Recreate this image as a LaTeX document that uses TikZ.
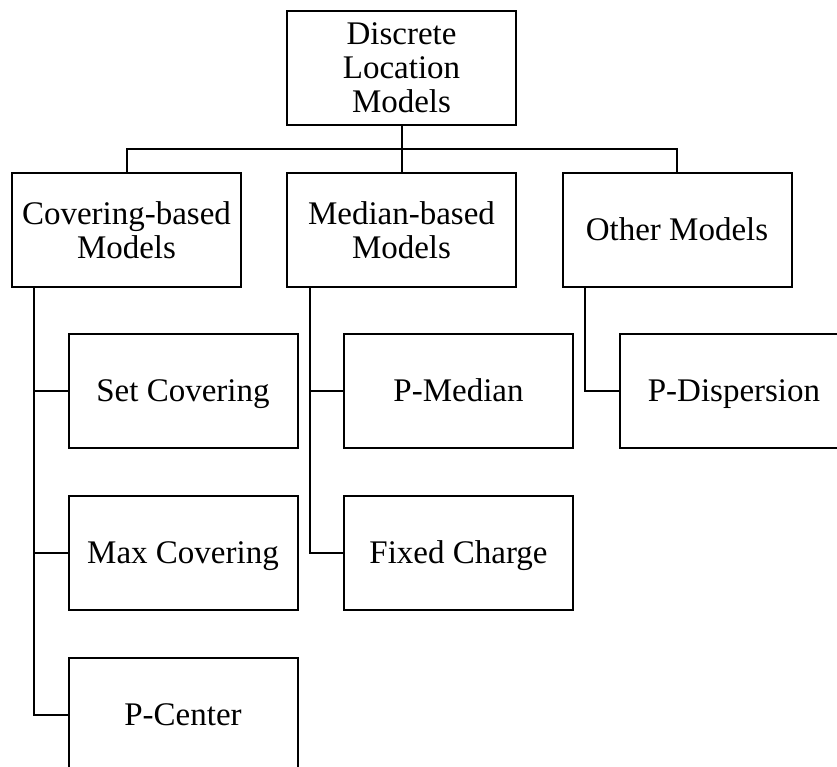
\documentclass[tikz,border=0pt]{standalone}
\usepackage{fontspec}
\setmainfont{Liberation Serif}
\begin{document}
\begin{tikzpicture}[x=1pt,y=-1pt,
  box/.style={draw,line width=2pt,minimum width=229pt,minimum height=114pt,
    inner sep=0pt,align=center,font=\fontsize{33}{34}\selectfont},
  oneline/.style={box,text height=21.8pt,text depth=0pt},
  conn/.style={line width=2pt}]
\useasboundingbox (0,0) rectangle (837,767);
% level 1
\node[box] (root) at (401.5,68) {Discrete\\Location\\Models};
% level 2
\node[box] (cov) at (126.5,230) {Covering-based\\Models};
\node[box] (med) at (401.5,230) {Median-based\\Models};
\node[oneline] (oth) at (677,230) {Other Models};
% level 3
\node[oneline] (sc) at (183,391) {Set Covering};
\node[oneline] (mc) at (183,553) {Max Covering};
\node[oneline] (pc) at (183,715) {P-Center};
\node[oneline] (pm) at (458.5,391) {P-Median};
\node[oneline] (fc) at (458.5,553) {Fixed Charge};
\node[oneline] (pd) at (734,391) {P-Dispersion};
% bus
\coordinate (bus) at (401.5,149);
\draw[conn] (root.south) -- (med.north);
\draw[conn] (cov.north) -- (cov.north |- bus) -- (oth.north |- bus) -- (oth.north);
% trunks
\coordinate (ct) at ([xshift=23pt]cov.south west);
\coordinate (mt) at ([xshift=24pt]med.south west);
\coordinate (ot) at ([xshift=23pt]oth.south west);
\draw[conn] (ct) |- (pc.west);
\draw[conn] (sc.west) -- (sc.west -| ct);
\draw[conn] (mc.west) -- (mc.west -| ct);
\draw[conn] (mt) |- (fc.west);
\draw[conn] (pm.west) -- (pm.west -| mt);
\draw[conn] (ot) |- (pd.west);
\end{tikzpicture}
\end{document}
